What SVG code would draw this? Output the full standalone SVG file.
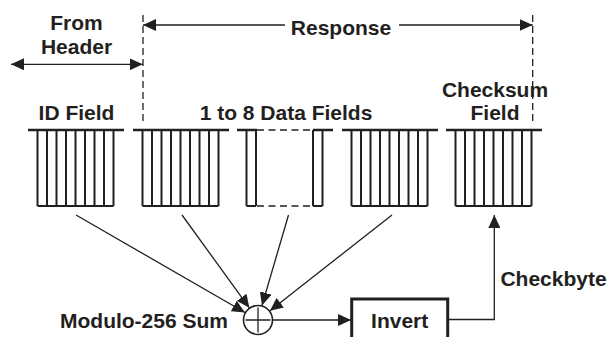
<svg xmlns="http://www.w3.org/2000/svg" width="608" height="337" viewBox="0 0 608 337">
<defs>
<style>
.t{font-family:"Liberation Sans",Arial,sans-serif;font-weight:bold;font-size:21px;fill:#231f20;text-anchor:middle}
.ln{stroke:#231f20;stroke-width:1.3;fill:none}
.dash{stroke:#231f20;stroke-width:1.3;fill:none;stroke-dasharray:7 4}
.top{stroke:#231f20;stroke-width:2.5;fill:none}
.bar{stroke:#231f20;stroke-width:2;fill:none}
.bdash{stroke:#231f20;stroke-width:1.5;fill:none;stroke-dasharray:7 4.5}
</style>
<marker id="ah" viewBox="0 0 13 12" refX="13" refY="6" markerWidth="13" markerHeight="12" markerUnits="userSpaceOnUse" orient="auto-start-reverse">
<path d="M0,0 L13,6 L0,12 Z" fill="#231f20"/>
</marker>
<g id="byte">
<path class="top" d="M0,130 H96"/>
<path class="bar" d="M9.5,130 V206 M19,130 V206 M28.5,130 V206 M38,130 V206 M47.5,130 V206 M57,130 V206 M66.5,130 V206 M76,130 V206 M85.5,130 V206 M9.5,206 H85.5"/>
</g>
</defs>
<rect width="608" height="337" fill="#ffffff"/>

<g id="labels">
<text class="t" x="76.5" y="30">From</text>
<text class="t" x="76.5" y="54">Header</text>
<text class="t" x="341" y="35">Response</text>
<text class="t" x="76.5" y="119.5">ID Field</text>
<text class="t" x="286" y="119.5">1 to 8 Data Fields</text>
<text class="t" x="495" y="97">Checksum</text>
<text class="t" x="495" y="119.5">Field</text>
</g>

<g id="id-field"><use href="#byte" x="28"/></g>
<g id="data-field-1"><use href="#byte" x="133"/></g>
<g id="data-fields-middle">
<path class="top" d="M237,130 H257 M313,130 H333"/>
<path class="bdash" d="M257,130 H313 M257,206 H313"/>
<path class="bar" d="M246.5,130 V206 M256,130 V206 M246.5,206 H256 M313,130 V206 M322.5,130 V206 M313,206 H322.5"/>
</g>
<g id="data-field-n"><use href="#byte" x="342"/></g>
<g id="checksum-field"><use href="#byte" x="446"/></g>

<g id="sum">
<circle cx="258" cy="320" r="14.5" fill="#ffffff" stroke="#231f20" stroke-width="1.6"/>
<path class="ln" d="M245.5,320 H270.5 M258,307.5 V332.5"/>
<text class="t" x="144" y="327.5">Modulo-256 Sum</text>
</g>

<g id="invert">
<rect x="351.7" y="299" width="96" height="42" fill="#ffffff" stroke="#231f20" stroke-width="3"/>
<text class="t" x="399.7" y="327.5">Invert</text>
</g>

<g id="checkbyte-label">
<text class="t" x="553.5" y="286">Checkbyte</text>
</g>

<g id="connectors">
<path class="dash" d="M143,15 V121"/>
<path class="dash" d="M532.7,15 V121"/>
<path class="ln" d="M11,64.3 H142.7" marker-start="url(#ah)" marker-end="url(#ah)"/>
<path class="ln" d="M285,25 H143" marker-end="url(#ah)"/>
<path class="ln" d="M399,25 H532.7" marker-end="url(#ah)"/>
<path class="ln" d="M76,215 L245,312.5" marker-end="url(#ah)"/>
<path class="ln" d="M182,215 L249.3,307.8" marker-end="url(#ah)"/>
<path class="ln" d="M288.5,215 L262,305.5" marker-end="url(#ah)"/>
<path class="ln" d="M392,215 L270,310.7" marker-end="url(#ah)"/>
<path class="ln" d="M272.5,320 H351" marker-end="url(#ah)"/>
<path class="ln" d="M449,319.5 H494.3 V215" marker-end="url(#ah)"/>
</g>
</svg>
